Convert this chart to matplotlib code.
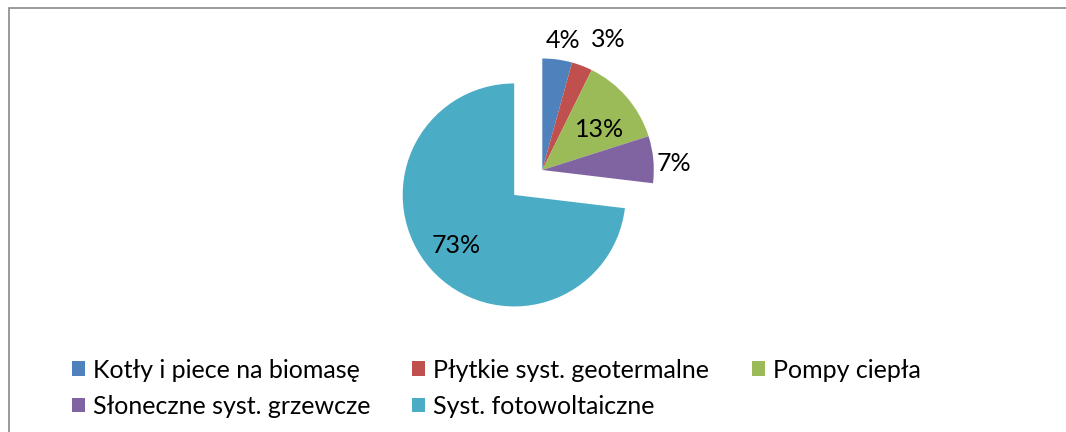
import matplotlib
matplotlib.use("Agg")
import matplotlib.pyplot as plt
from matplotlib.patches import Rectangle
import numpy as np

# data
categories = ["Kotły i piece na biomasę", "Płytkie syst. geotermalne", "Pompy ciepła",
              "Słoneczne syst. grzewcze", "Syst. fotowoltaiczne"]
shares = [4.3, 3.0, 12.8, 6.8, 73.1]
colors = ["#4F81BD", "#C0504D", "#9BBB59", "#8064A2", "#4BACC6"]
explode = [0, 0, 0, 0, 0.337]

# label placement: radial distance and clockwise angle shift (deg)
label_r = [1.18, 1.31, 0.63, 1.18, 0.69]
label_shift = [1.5, 6.0, 5.0, 2.5, 0.0]

plt.rcParams["font.family"] = ["Lato", "DejaVu Sans"]
FS = 18

W, H = 1066, 432
fig = plt.figure(figsize=(W / 100, H / 100), dpi=100)

# pie centre and radius in pixels
cx, cy, R = 542.3, 170.0, 111.5
ax = fig.add_axes([0, 0, 1, 1])
wedges, _ = ax.pie(shares, colors=colors, explode=explode, startangle=90,
                   counterclock=False, radius=1.0,
                   wedgeprops=dict(linewidth=0))
ax.set_aspect("auto")
ax.set_xlim(-cx / R, (W - cx) / R)
ax.set_ylim((cy - H) / R, cy / R)
ax.axis("off")

for w, val, r, sh in zip(wedges, shares, label_r, label_shift):
    mid = np.deg2rad((w.theta1 + w.theta2) / 2 - sh)
    x = w.center[0] + r * np.cos(mid)
    y = w.center[1] + r * np.sin(mid)
    ax.text(x, y, "{:.0f}%".format(val), ha="center", va="center",
            fontsize=FS, color="black")

# legend: 3 columns, row-major, one small legend per entry (fixed column widths)
col_x = [71.7, 411.7, 751.7]
row_y = [370.0, 406.5]
for i, (w, name) in enumerate(zip(wedges, categories)):
    lx, ly = col_x[i % 3], row_y[i // 3]
    leg = fig.legend([w], [name], loc="center left",
                     bbox_to_anchor=(lx / W, 1 - ly / H), bbox_transform=fig.transFigure,
                     frameon=False, fontsize=FS, borderpad=0, borderaxespad=0,
                     handlelength=0.52, handleheight=0.52, handletextpad=0.32)

# chart area border
fig.add_artist(Rectangle((8.5 / W, -0.1), 2, 1.1 - 8.5 / H, transform=fig.transFigure,
                         fill=False, edgecolor="#898989", linewidth=1.2))

fig.savefig("out.png", dpi=100)
